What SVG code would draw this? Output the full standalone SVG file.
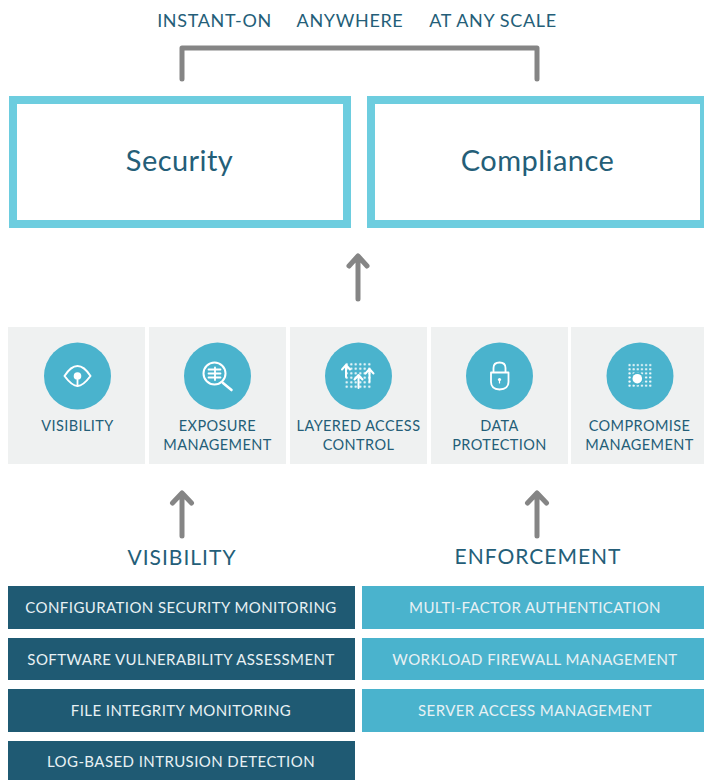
<svg xmlns="http://www.w3.org/2000/svg" width="704" height="780" viewBox="0 0 704 780">
<style>
text{font-family:Lato,"Liberation Sans",sans-serif;text-anchor:middle;fill:#245e78}
.top{font-size:18px;letter-spacing:.65px}
.big{font-size:29px;letter-spacing:.45px}
.head{font-size:21px;letter-spacing:1px}
.lab{font-size:14.5px;letter-spacing:.4px}
.bar{font-size:15px;letter-spacing:.42px;fill:#e8f1f4}
.box{fill:#fff;stroke:#6dcddf;stroke-width:8}
.tile{fill:#eff1f1}
.disc{fill:#4ab3cd}
.dark{fill:#1f5a73}
.light{fill:#4ab3cd}
.conn{fill:none;stroke:#858585;stroke-width:5;stroke-linecap:round;stroke-linejoin:round}
.ic{fill:none;stroke:#fff;stroke-width:1.8;stroke-linecap:round;stroke-linejoin:round}
.if{fill:#fff}
</style>
<defs>
<pattern id="dots-a" x="344.500" y="362" width="4.500" height="4.500" patternUnits="userSpaceOnUse"><circle cx="2.250" cy="2.250" r="1.100" fill="#fff"/></pattern>
<pattern id="dots-b" x="627.500" y="363" width="4.130" height="4.130" patternUnits="userSpaceOnUse"><circle cx="2.065" cy="2.065" r="1.100" fill="#fff"/></pattern>
</defs>
<g id="connectors">
<path class="conn" d="M182 79V48H537V79"/>
<path class="conn" d="M358 299V256M349 266L358 256L367 266"/>
<path class="conn" d="M182 536V493M172.500 503L182 493L191.500 503"/>
<path class="conn" d="M537 536V493M527.500 503L537 493L546.500 503"/>
</g>
<g id="taglines">
<text class="top" x="214.500" y="27">INSTANT-ON</text>
<text class="top" x="350" y="27">ANYWHERE</text>
<text class="top" x="493" y="27">AT ANY SCALE</text>
</g>
<g id="security"><rect class="box" x="13" y="100" width="334" height="124"/><text class="big" x="179.500" y="171">Security</text></g>
<g id="compliance"><rect class="box" x="371" y="100" width="333" height="124"/><text class="big" x="537.500" y="171">Compliance</text></g>
<g id="tile-visibility"><rect class="tile" x="8" y="327" width="137" height="137"/><circle class="disc" cx="77.500" cy="376" r="33.500"/>
<path class="ic" style="stroke-width:2" d="M64.500 376C69 369 73 366 77.500 366C82 366 86 369 90.500 376C86 382 82 386 77.500 386C73 386 69 382 64.500 376Z"/><circle class="if" cx="77.500" cy="376" r="3.800"/><path class="ic" d="M77.500 380V386"/>
<text class="lab" x="77.500" y="431">VISIBILITY</text></g>
<g id="tile-exposure"><rect class="tile" x="149" y="327" width="137" height="137"/><circle class="disc" cx="217.500" cy="376" r="33.500"/>
<circle class="ic" cx="214.500" cy="373.500" r="11" style="stroke-width:2"/><path class="ic" d="M208.500 369.500H220.500M208.500 373.500H220.500M208.500 377.500H220.500M215 367.500V380"/><path class="ic" d="M223 383L231.500 390" style="stroke-width:2.600"/>
<text class="lab" x="217.500" y="431">EXPOSURE</text><text class="lab" x="217.500" y="450">MANAGEMENT</text></g>
<g id="tile-layered"><rect class="tile" x="290" y="327" width="137" height="137"/><circle class="disc" cx="358.500" cy="376" r="33.500"/>
<rect x="344.500" y="362" width="27" height="27" fill="url(#dots-a)"/>
<path class="ic" style="stroke-width:2" d="M346 377V365.500M342 369.500L346 365L350 369.500M358.500 388V375.500M354.500 379.500L358.500 375L362.500 379.500M369.500 381.500V369.500M365.500 373.500L369.500 369L373.500 373.500"/>
<text class="lab" x="358.500" y="431">LAYERED ACCESS</text><text class="lab" x="358.500" y="450">CONTROL</text></g>
<g id="tile-data"><rect class="tile" x="431" y="327" width="137" height="137"/><circle class="disc" cx="499.500" cy="376" r="33.500"/>
<path class="ic" d="M491 372.500H508.500V382Q508.500 389 499.500 389.500Q491 389 491 382ZM493.500 372.500V368Q493.500 362.500 499.500 362.500Q505.500 362.500 505.500 368V372.500"/><circle class="if" cx="499.500" cy="379.500" r="1.600"/><path class="ic" style="stroke-width:1.200" d="M499.500 380V383"/>
<text class="lab" x="499.500" y="431">DATA</text><text class="lab" x="499.500" y="450">PROTECTION</text></g>
<g id="tile-compromise"><rect class="tile" x="571" y="327" width="133" height="137"/><circle class="disc" cx="640" cy="376" r="33.500"/>
<rect x="627.500" y="363" width="24.800" height="24.800" fill="url(#dots-b)"/><circle class="disc" cx="637.300" cy="378.700" r="6.500"/><circle class="if" cx="637.300" cy="378.700" r="4.800"/>
<text class="lab" x="639.500" y="431">COMPROMISE</text><text class="lab" x="639.500" y="450">MANAGEMENT</text></g>
<g id="heading-visibility"><text class="head" x="182" y="565">VISIBILITY</text></g>
<g id="heading-enforcement"><text class="head" x="538" y="564">ENFORCEMENT</text></g>
<g id="bar-config"><rect class="dark" x="8" y="586" width="347" height="43"/><text class="bar" x="181" y="613">CONFIGURATION SECURITY MONITORING</text></g>
<g id="bar-software"><rect class="dark" x="8" y="638" width="347" height="42"/><text class="bar" x="181" y="665">SOFTWARE VULNERABILITY ASSESSMENT</text></g>
<g id="bar-file"><rect class="dark" x="8" y="689" width="347" height="43"/><text class="bar" x="181" y="716">FILE INTEGRITY MONITORING</text></g>
<g id="bar-log"><rect class="dark" x="8" y="741" width="347" height="39"/><text class="bar" x="181" y="767">LOG-BASED INTRUSION DETECTION</text></g>
<g id="bar-mfa"><rect class="light" x="362" y="586" width="342" height="43"/><text class="bar" x="535" y="613">MULTI-FACTOR AUTHENTICATION</text></g>
<g id="bar-workload"><rect class="light" x="362" y="638" width="342" height="42"/><text class="bar" x="535" y="665">WORKLOAD FIREWALL MANAGEMENT</text></g>
<g id="bar-server"><rect class="light" x="362" y="689" width="342" height="43"/><text class="bar" x="535" y="716">SERVER ACCESS MANAGEMENT</text></g>
</svg>
